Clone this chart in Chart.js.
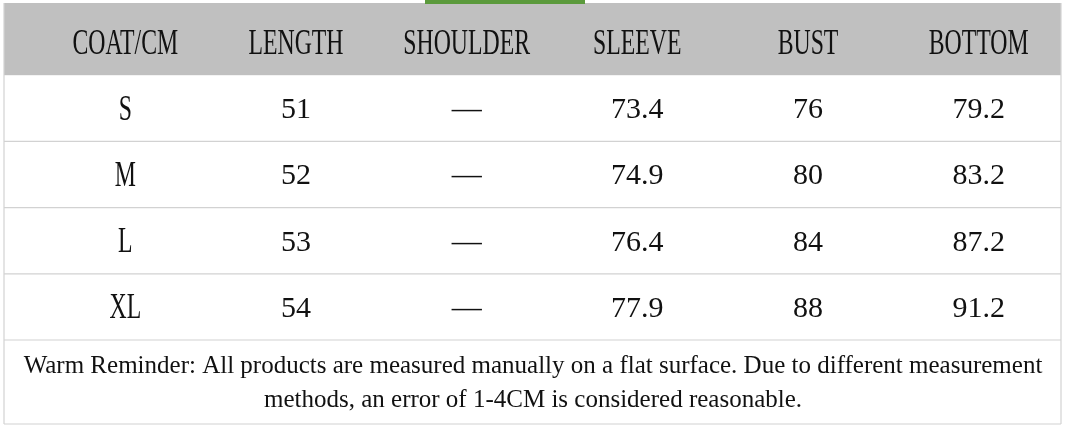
<!DOCTYPE html>
<html><head><meta charset="utf-8">
<script src="https://cdn.jsdelivr.net/npm/chart.js@4"></script>
<style>html,body{margin:0;padding:0;background:#fff}#w{width:1067px;height:429px}</style>
</head><body><div id="w"><canvas id="c"></canvas></div>
<script>
const columns = ['COAT/CM','LENGTH','SHOULDER','SLEEVE','BUST','BOTTOM'];
const sizes = ['S','M','L','XL'];
const lengthV = ['51','52','53','54'];
const shoulderV = ['—','—','—','—'];
const sleeveV = ['73.4','74.9','76.4','77.9'];
const bustV = ['76','80','84','88'];
const bottomV = ['79.2','83.2','87.2','91.2'];
const noteLines = ['Warm Reminder: All products are measured manually on a flat surface. Due to different measurement','methods, an error of 1-4CM is considered reasonable.'];
const rows = ['HEAD'].concat(sizes);
const cols = [sizes, lengthV, shoulderV, sleeveV, bustV, bottomV];

const cells = [];
columns.forEach((c,ci)=>{ cells.push({x:c,y:'HEAD',t:c,h:true});
  sizes.forEach((s,ri)=>cells.push({x:c,y:s,t:cols[ci][ri],h:ci===0})); });

const tablePlugin = {
  id:'table',
  beforeDatasetsDraw(chart){
    const ctx=chart.ctx, xs=chart.scales.x, ys=chart.scales.y, a=chart.chartArea;
    const L=4, R=1061, T=3;
    ctx.save();
    const step=(ys.getPixelForValue(1)-ys.getPixelForValue(0));
    const headBottom=ys.getPixelForValue(0)+step/2;
    ctx.fillStyle='#c0c0c0'; ctx.fillRect(L,T,R-L,headBottom-T);
    ctx.fillStyle='#5b9a3c'; ctx.fillRect(425,0,160,4);
    ctx.strokeStyle='#d2d2d2'; ctx.lineWidth=1.2;
    for(let i=1;i<rows.length;i++){const y=ys.getPixelForValue(i)+step/2;
      ctx.beginPath();ctx.moveTo(L,y);ctx.lineTo(R,y);ctx.stroke();}
    const fb=424;
    ctx.beginPath();ctx.moveTo(L,fb);ctx.lineTo(R,fb);ctx.stroke();
    ctx.beginPath();ctx.moveTo(L,T);ctx.lineTo(L,fb);ctx.moveTo(R,T);ctx.lineTo(R,fb);ctx.stroke();
    ctx.fillStyle='#111'; ctx.textAlign='center'; ctx.textBaseline='middle';
    ctx.font='25px "Liberation Serif"';
    const fy=a.bottom+(fb-a.bottom)/2;
    ctx.fillText(noteLines[0],533,fy-16);
    ctx.fillText(noteLines[1],533,fy+18);
    cells.forEach(c=>{
      const x=xs.getPixelForValue(columns.indexOf(c.x)), y=ys.getPixelForValue(rows.indexOf(c.y))+2;
      ctx.save(); ctx.translate(x,y);
      if(c.h){ ctx.scale(0.66,1); ctx.font='36px "Liberation Serif"'; }
      else ctx.font='30px "Liberation Serif"';
      ctx.fillText(c.t,0,0); ctx.restore();
    });
    ctx.restore();
  }
};

new Chart(document.getElementById('c'),{
  type:'scatter',
  data:{datasets:[{data:cells,pointRadius:0}]},
  options:{responsive:true,maintainAspectRatio:false,animation:false,
    layout:{padding:{left:40,right:3,top:9,bottom:89}},
    plugins:{legend:{display:false},tooltip:{enabled:false}},
    scales:{
      x:{type:'category',labels:columns,offset:true,display:false},
      y:{type:'category',labels:rows,offset:true,display:false}
    }},
  plugins:[tablePlugin]
});
</script></body></html>
